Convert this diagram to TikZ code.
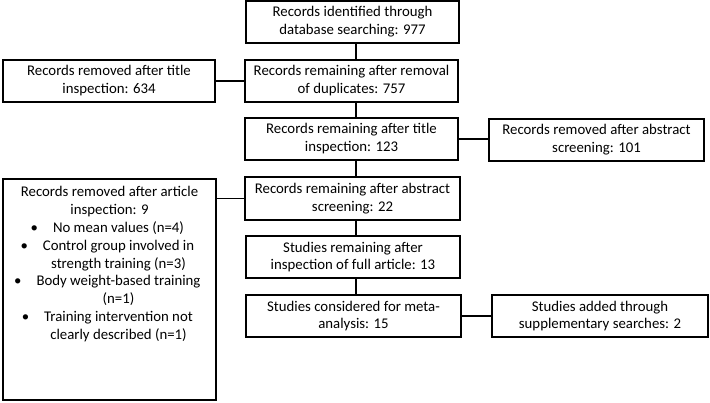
\documentclass[tikz,border=0pt]{standalone}
\usepackage{fontspec}
\setmainfont{Carlito}
\newcommand{\bitem}[1]{\hbox to 18pt{\hss\textbullet\hspace{15pt}}#1}
\newcommand{\bcont}[1]{\hbox to 18pt{}#1}
\begin{document}
\begin{tikzpicture}[x=1pt,y=-1pt,
  box/.style={draw=black, line width=2pt, rectangle, align=center, inner sep=2pt,
    font=\fontsize{14.8}{17.9}\selectfont},
  txt/.style={align=center, inner sep=0pt, font=\fontsize{14.8}{17.9}\selectfont},
  conn/.style={draw=black, line width=1.2pt}]
\useasboundingbox (0,0) rectangle (710,402);
\fill[white] (0,0) rectangle (710,402);
\node[box, minimum width=213pt, minimum height=42pt] (b1) at (352.5,22) {Records identified through\\database searching: 977};
\node[box, minimum width=213pt, minimum height=42pt] (b2) at (351.5,81) {Records remaining after removal\\of duplicates: 757};
\node[box, minimum width=212pt, minimum height=42pt] (b3) at (109,81) {Records removed after title\\inspection: 634};
\node[box, minimum width=213pt, minimum height=42pt] (b4) at (351.5,139) {Records remaining after title\\inspection: 123};
\node[box, minimum width=215pt, minimum height=42pt] (b5) at (596.5,139.5) {Records removed after abstract\\screening: 101};
\node[box, minimum width=215pt, minimum height=43pt] (b6) at (352.5,198.5) {Records remaining after abstract\\screening: 22};
\node[box, minimum width=214pt, minimum height=42pt] (b7) at (353,257) {Studies remaining after\\inspection of full article: 13};
\node[box, minimum width=215pt, minimum height=42pt] (b8) at (353.5,316) {Studies considered for meta-\\analysis: 15};
\node[box, minimum width=216pt, minimum height=42pt] (b9) at (600,316) {Studies added through\\supplementary searches: 2};
\node[box, minimum width=213pt, minimum height=221pt] (b10) at (109.5,289.5) {};
\node[txt, anchor=north] (b10t) at ([yshift=-8pt]b10.north) {Records removed after article\\inspection: 9\\
\bitem{No mean values (n=4)}\\
\bitem{Control group involved in}\\
\bcont{strength training (n=3)}\\
\bitem{Body weight-based training}\\
\bcont{(n=1)}\\
\bitem{Training intervention not}\\
\bcont{clearly described (n=1)}};
\draw[conn] ([xshift=3.5pt]b1.south) -- ([xshift=3.5pt]b1.south |- b2.north);
\draw[conn] ([xshift=4.5pt]b2.south) -- ([xshift=4.5pt]b2.south |- b4.north);
\draw[conn] ([xshift=4.5pt]b4.south) -- ([xshift=4.5pt]b4.south |- b6.north);
\draw[conn] ([xshift=3.5pt]b6.south) -- ([xshift=3.5pt]b6.south |- b7.north);
\draw[conn] ([xshift=3pt]b7.south) -- ([xshift=3pt]b7.south |- b8.north);
\draw[conn] (b3.east) -- (b3.east -| b2.west);
\draw[conn] (b4.east) -- (b4.east -| b5.west);
\draw[conn] (b6.west -| b10.east) -- (b6.west);
\draw[conn] (b8.east) -- (b8.east -| b9.west);
\end{tikzpicture}
\end{document}
